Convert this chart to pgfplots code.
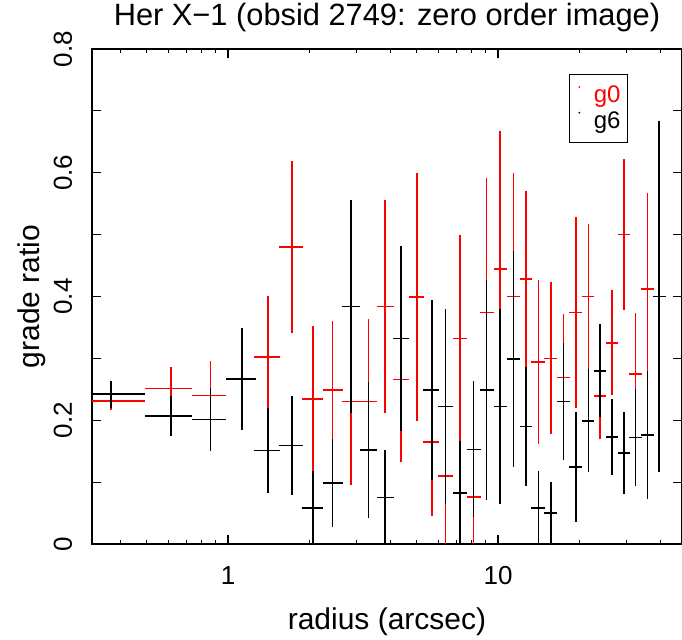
\documentclass[border=0pt]{standalone}
\usepackage{fontspec}
\setmainfont{Liberation Sans}
\usepackage{pgfplots}
\usepackage{pgfplotstable}
\pgfplotsset{compat=1.18}

% x, xm, xp, y, ey
\pgfplotstableread{
x      xm     xp     y      ey
0.369  0.123  0.123  0.231  0.015
0.615  0.123  0.123  0.251  0.035
0.861  0.123  0.123  0.240  0.055
1.127  0.144  0.139  0.267  0.082
1.407  0.159  0.151  0.302  0.098
1.722  0.177  0.173  0.480  0.139
2.059  0.184  0.196  0.234  0.118
2.441  0.199  0.219  0.249  0.112
2.855  0.217  0.230  0.230  0.134
3.318  0.233  0.255  0.230  0.133
3.823  0.267  0.297  0.384  0.172
4.376  0.281  0.314  0.266  0.133
4.998  0.338  0.332  0.399  0.200
5.68   0.40   0.38   0.165  0.119
6.39   0.42   0.44   0.110  0.110
7.24   0.44   0.45   0.332  0.167
8.10   0.44   0.52   0.076  0.090
9.06   0.49   0.56   0.374  0.217
10.17  0.55   0.61   0.444  0.223
11.39  0.61   0.68   0.400  0.200
12.68  0.61   0.72   0.428  0.143
14.1   0.8    0.8    0.294  0.133
15.7   0.9    0.9    0.300  0.123
17.5   0.9    1.0    0.269  0.102
19.4   1.1    1.1    0.374  0.154
21.6   1.1    1.1    0.400  0.117
23.9   1.3    1.3    0.239  0.069
26.4   1.3    1.4    0.325  0.085
29.2   1.5    1.6    0.500  0.122
32.3   1.7    1.7    0.275  0.098
35.8   2.0    1.9    0.412  0.155
}\gzero

\pgfplotstableread{
x      xm     xp     y      ey
0.369  0.123  0.123  0.242  0.022
0.615  0.123  0.123  0.207  0.032
0.861  0.123  0.123  0.201  0.051
1.127  0.144  0.139  0.267  0.082
1.407  0.159  0.151  0.151  0.069
1.722  0.177  0.173  0.159  0.080
2.059  0.184  0.196  0.058  0.060
2.441  0.199  0.219  0.099  0.071
2.855  0.217  0.230  0.384  0.172
3.318  0.233  0.255  0.152  0.110
3.823  0.267  0.297  0.075  0.077
4.376  0.281  0.314  0.332  0.150
5.68   0.40   0.38   0.249  0.145
6.39   0.42   0.44   0.222  0.158
7.24   0.44   0.45   0.082  0.084
8.10   0.44   0.52   0.153  0.110
9.06   0.49   0.56   0.249  0.178
10.17  0.55   0.61   0.222  0.158
11.39  0.61   0.68   0.299  0.174
12.68  0.61   0.72   0.190  0.096
14.1   0.8    0.8    0.058  0.060
15.7   0.9    0.9    0.050  0.050
17.5   0.9    1.0    0.230  0.095
19.4   1.1    1.1    0.124  0.089
21.6   1.1    1.1    0.199  0.083
23.9   1.3    1.3    0.280  0.075
26.4   1.3    1.4    0.173  0.062
29.2   1.5    1.6    0.147  0.067
32.3   1.7    1.7    0.172  0.078
35.8   2.0    1.9    0.176  0.103
39.4   1.8    2.4    0.400  0.284
}\gsix

\begin{document}
\begin{tikzpicture}
\begin{axis}[
  at={(0,0)}, anchor=south west,
  scale only axis,
  width=295pt, height=247.5pt,
  xmode=log,
  xmin=0.3135, xmax=48.0,
  ymin=0, ymax=0.8,
  axis line style={line width=0.7pt},
  every tick/.style={black, line width=0.6pt},
  tick align=inside,
  major tick length=4.5pt,
  minor tick length=2.2pt,
  xtick={1,10},
  xticklabels={1,10},
  minor xtick={0.4,0.5,0.6,0.7,0.8,0.9,2,3,4,5,6,7,8,9,20,30,40},
  ytick={0,0.1,0.2,0.3,0.4,0.5,0.6,0.7,0.8},
  yticklabels={0,,0.2,,0.4,,0.6,,0.8},
  xticklabel style={font=\fontsize{13}{15}\selectfont, anchor=base, yshift=-20.5pt},
  yticklabel style={font=\fontsize{13}{15}\selectfont, xshift=-10pt, rotate=90, anchor=base},
  title={Her X−1 (obsid 2749: zero order image)},
  title style={font=\fontsize{15.4}{18}\selectfont, at={(axis description cs:0.5,1.0242)}, anchor=base},
  xlabel={radius (arcsec)},
  xlabel style={font=\fontsize{15}{18}\selectfont, at={(axis description cs:0.5,-0.1737)}, anchor=base},
  ylabel={grade ratio},
  ylabel style={font=\fontsize{15}{18}\selectfont, at={(axis description cs:-0.0898,0.5)}, anchor=base},
  legend image code/.code={\path[draw=none,fill=none] (0,0) -- (0.3cm,0); \fill (0.1cm,0) circle (0.5pt);},
  legend style={at={(axis description cs:0.8085,0.9495)}, anchor=north west,
    draw=black, line width=0.7pt, font=\fontsize{12}{14}\selectfont,
    inner xsep=2pt, inner ysep=4pt, row sep=0pt,
    nodes={inner sep=1.5pt}},
  legend cell align=left,
]
\addplot[red, draw=none, mark=none,
  error bars/.cd, x dir=both, x explicit, y dir=both, y explicit, error mark=none,
  error bar style={line width=0.8pt, draw=red, solid}]
  table[x=x, y=y, x error plus=xp, x error minus=xm, y error=ey] {\gzero};
\addlegendentry{\textcolor{red}{g0}}
\addplot[black, draw=none, mark=none,
  error bars/.cd, x dir=both, x explicit, y dir=both, y explicit, error mark=none,
  error bar style={line width=0.8pt, draw=black, solid}]
  table[x=x, y=y, x error plus=xp, x error minus=xm, y error=ey] {\gsix};
\addlegendentry{g6}
\end{axis}
\pgfresetboundingbox
\path[use as bounding box] (-46pt,-48pt) rectangle (295pt,272pt);
\end{tikzpicture}
\end{document}
